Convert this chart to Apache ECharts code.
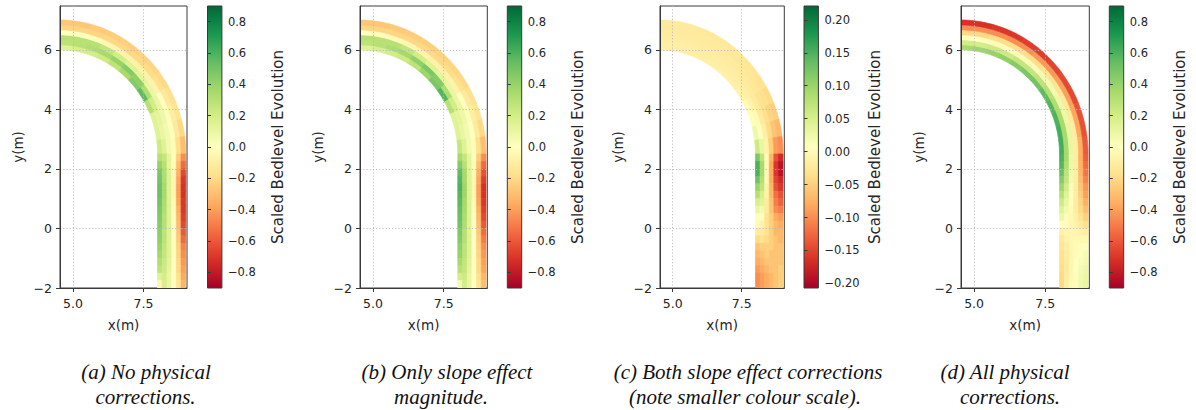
<!DOCTYPE html>
<html><head><meta charset="utf-8">
<script src="https://cdn.jsdelivr.net/npm/echarts@6/dist/echarts.min.js"></script>
<style>html,body{margin:0;padding:0;background:#fff}#c{width:1196px;height:410px}</style>
</head><body><div id="c"></div>
<script>
// ---- channel cell grid (station boundaries) ----
const bendAngles = [90, 82.5, 75, 67.5, 60, 52.5, 45, 37.5, 30, 22.5, 15, 7.5, 0]; // degrees
const straightY = [2.5, 2.25, 2, 1.75, 1.5, 1.25, 1, 0.75, 0.5, 0.25, 0, -0.25, -0.5, -0.75, -1, -1.25, -1.5, -1.75, -2]; // m
const nBins = 6; // transverse bins, inner bank -> outer bank

// ---- axis ticks ----
const xTicks = [5.0, 7.5];
const yTicks = [-2, 0, 2, 4, 6];
const cbTicksFull = [-0.8, -0.6, -0.4, -0.2, 0, 0.2, 0.4, 0.6, 0.8];
const cbTicksSmall = [-0.2, -0.15, -0.1, -0.05, 0, 0.05, 0.1, 0.15, 0.2];
const cbRangeFull = [-0.9, 0.9];
const cbRangeSmall = [-0.207, 0.221];

// ---- values: rows = stations along the flow, columns = inner -> outer ----
const aBend = [
 [0.15, 0.28, 0.30, 0.00, -0.22, -0.27],
 [0.18, 0.30, 0.30, 0.00, -0.22, -0.27],
 [0.20, 0.32, 0.30, -0.02, -0.22, -0.26],
 [0.22, 0.35, 0.26, -0.05, -0.21, -0.25],
 [0.28, 0.40, 0.20, -0.07, -0.21, -0.24],
 [0.35, 0.45, 0.15, -0.08, -0.20, -0.23],
 [0.45, 0.42, 0.12, -0.08, -0.19, -0.22],
 [0.55, 0.32, 0.10, -0.07, -0.17, -0.20],
 [0.30, 0.20, 0.10, 0.00, -0.12, -0.17],
 [0.15, 0.12, 0.08, 0.02, -0.10, -0.15],
 [0.15, 0.10, 0.06, 0.00, -0.12, -0.20],
 [0.22, 0.15, 0.06, -0.02, -0.18, -0.30]
];
const aStraight = [
 [0.30, 0.25, 0.12, 0.00, -0.25, -0.45],
 [0.40, 0.30, 0.12, -0.02, -0.30, -0.55],
 [0.48, 0.32, 0.15, -0.04, -0.35, -0.65],
 [0.50, 0.33, 0.15, -0.05, -0.38, -0.70],
 [0.52, 0.35, 0.15, -0.05, -0.40, -0.72],
 [0.52, 0.35, 0.15, -0.05, -0.40, -0.72],
 [0.50, 0.33, 0.15, -0.03, -0.38, -0.70],
 [0.48, 0.32, 0.15, -0.02, -0.35, -0.70],
 [0.46, 0.30, 0.15, 0.00, -0.32, -0.68],
 [0.45, 0.30, 0.15, 0.00, -0.30, -0.65],
 [0.43, 0.28, 0.15, 0.00, -0.27, -0.60],
 [0.42, 0.28, 0.15, 0.00, -0.25, -0.55],
 [0.40, 0.26, 0.15, 0.00, -0.23, -0.48],
 [0.36, 0.25, 0.15, 0.00, -0.22, -0.45],
 [0.32, 0.23, 0.13, 0.00, -0.20, -0.42],
 [0.28, 0.22, 0.12, 0.00, -0.20, -0.40],
 [0.15, 0.20, 0.10, 0.00, -0.17, -0.37],
 [-0.05, 0.18, 0.10, 0.00, -0.15, -0.33]
];
const bBend = [
 [0.15, 0.28, 0.30, 0.00, -0.22, -0.27],
 [0.18, 0.30, 0.30, -0.01, -0.22, -0.27],
 [0.20, 0.33, 0.30, -0.03, -0.22, -0.26],
 [0.22, 0.36, 0.26, -0.05, -0.21, -0.25],
 [0.28, 0.42, 0.20, -0.07, -0.21, -0.24],
 [0.38, 0.48, 0.15, -0.08, -0.20, -0.23],
 [0.48, 0.45, 0.12, -0.08, -0.19, -0.22],
 [0.58, 0.32, 0.10, -0.07, -0.17, -0.20],
 [0.30, 0.20, 0.10, 0.00, -0.12, -0.17],
 [0.15, 0.12, 0.08, 0.02, -0.10, -0.15],
 [0.15, 0.10, 0.06, 0.00, -0.12, -0.20],
 [0.25, 0.15, 0.06, -0.02, -0.18, -0.30]
];
const bStraight = [
 [0.35, 0.25, 0.12, 0.00, -0.25, -0.45],
 [0.45, 0.30, 0.12, -0.02, -0.30, -0.55],
 [0.55, 0.35, 0.15, -0.04, -0.35, -0.62],
 [0.58, 0.36, 0.15, -0.05, -0.38, -0.68],
 [0.60, 0.38, 0.15, -0.05, -0.40, -0.72],
 [0.58, 0.38, 0.15, -0.05, -0.40, -0.72],
 [0.56, 0.36, 0.15, -0.03, -0.38, -0.70],
 [0.54, 0.35, 0.15, -0.02, -0.35, -0.68],
 [0.52, 0.33, 0.15, 0.00, -0.32, -0.65],
 [0.50, 0.32, 0.15, 0.00, -0.30, -0.60],
 [0.47, 0.30, 0.15, 0.00, -0.27, -0.55],
 [0.45, 0.30, 0.15, 0.00, -0.25, -0.50],
 [0.42, 0.28, 0.15, 0.00, -0.23, -0.45],
 [0.40, 0.28, 0.15, 0.00, -0.22, -0.42],
 [0.35, 0.26, 0.13, 0.00, -0.20, -0.40],
 [0.30, 0.25, 0.12, 0.00, -0.20, -0.38],
 [0.20, 0.22, 0.10, 0.00, -0.17, -0.33],
 [0.05, 0.20, 0.10, 0.00, -0.15, -0.30]
];
const cBend = [
 [-0.015, -0.015, -0.018, -0.020, -0.022, -0.022],
 [-0.015, -0.015, -0.018, -0.020, -0.022, -0.022],
 [-0.015, -0.016, -0.018, -0.020, -0.022, -0.022],
 [-0.015, -0.016, -0.018, -0.020, -0.022, -0.023],
 [-0.014, -0.016, -0.018, -0.020, -0.022, -0.023],
 [-0.013, -0.015, -0.018, -0.021, -0.023, -0.024],
 [-0.012, -0.015, -0.019, -0.022, -0.025, -0.026],
 [-0.010, -0.015, -0.020, -0.025, -0.028, -0.030],
 [0.000, -0.010, -0.020, -0.030, -0.035, -0.040],
 [0.010, 0.000, -0.020, -0.035, -0.045, -0.050],
 [0.025, 0.010, -0.015, -0.040, -0.060, -0.070],
 [0.060, 0.030, -0.010, -0.050, -0.090, -0.100]
];
const cStraight = [
 [0.120, 0.070, 0.000, -0.070, -0.140, -0.170],
 [0.150, 0.090, 0.000, -0.080, -0.160, -0.190],
 [0.150, 0.090, 0.000, -0.080, -0.160, -0.190],
 [0.130, 0.080, 0.000, -0.080, -0.150, -0.170],
 [0.100, 0.070, -0.010, -0.070, -0.140, -0.160],
 [0.080, 0.050, -0.010, -0.070, -0.120, -0.140],
 [0.050, 0.040, -0.020, -0.060, -0.110, -0.130],
 [0.030, 0.020, -0.020, -0.060, -0.100, -0.110],
 [0.010, 0.010, -0.030, -0.050, -0.080, -0.090],
 [0.000, -0.010, -0.030, -0.050, -0.070, -0.080],
 [-0.020, -0.020, -0.030, -0.050, -0.070, -0.070],
 [-0.040, -0.030, -0.040, -0.050, -0.060, -0.070],
 [-0.060, -0.050, -0.050, -0.050, -0.060, -0.060],
 [-0.070, -0.060, -0.050, -0.060, -0.060, -0.060],
 [-0.080, -0.070, -0.060, -0.060, -0.060, -0.060],
 [-0.090, -0.080, -0.070, -0.060, -0.060, -0.050],
 [-0.100, -0.090, -0.080, -0.070, -0.060, -0.050],
 [-0.100, -0.090, -0.080, -0.070, -0.060, -0.050]
];
const dBend = [
 [0.35, 0.20, 0.00, -0.20, -0.45, -0.72],
 [0.38, 0.20, 0.00, -0.20, -0.45, -0.72],
 [0.40, 0.22, 0.02, -0.18, -0.45, -0.70],
 [0.42, 0.22, 0.02, -0.18, -0.45, -0.70],
 [0.45, 0.25, 0.03, -0.18, -0.45, -0.68],
 [0.48, 0.25, 0.03, -0.18, -0.42, -0.68],
 [0.50, 0.28, 0.05, -0.15, -0.42, -0.66],
 [0.55, 0.30, 0.05, -0.15, -0.40, -0.65],
 [0.58, 0.32, 0.08, -0.12, -0.40, -0.65],
 [0.60, 0.35, 0.08, -0.12, -0.38, -0.62],
 [0.62, 0.35, 0.10, -0.10, -0.38, -0.62],
 [0.62, 0.35, 0.10, -0.10, -0.35, -0.60]
];
const dStraight = [
 [0.60, 0.35, 0.08, -0.10, -0.35, -0.58],
 [0.58, 0.32, 0.08, -0.10, -0.33, -0.55],
 [0.52, 0.28, 0.06, -0.10, -0.32, -0.52],
 [0.45, 0.25, 0.05, -0.10, -0.30, -0.48],
 [0.38, 0.20, 0.02, -0.10, -0.27, -0.43],
 [0.30, 0.15, 0.00, -0.10, -0.25, -0.40],
 [0.22, 0.10, -0.02, -0.10, -0.22, -0.35],
 [0.15, 0.06, -0.03, -0.10, -0.20, -0.30],
 [0.08, 0.02, -0.04, -0.09, -0.16, -0.24],
 [0.00, -0.02, -0.05, -0.08, -0.12, -0.18],
 [-0.08, -0.06, -0.05, -0.06, -0.08, -0.10],
 [-0.12, -0.08, -0.05, -0.04, -0.04, -0.04],
 [-0.14, -0.10, -0.05, -0.03, -0.01, 0.01],
 [-0.16, -0.11, -0.05, -0.02, 0.01, 0.04],
 [-0.17, -0.12, -0.05, 0.00, 0.03, 0.06],
 [-0.18, -0.12, -0.05, 0.00, 0.05, 0.08],
 [-0.20, -0.11, -0.04, 0.01, 0.06, 0.09],
 [-0.20, -0.10, -0.03, 0.02, 0.07, 0.10]
];
const captions = [
 ['(a) No physical', 'corrections.'],
 ['(b) Only slope effect', 'magnitude.'],
 ['(c) Both slope effect corrections', '(note smaller colour scale).'],
 ['(d) All physical', 'corrections.']
];

// ---- geometry of the flume ----
const bendCenter = [4.5, 2.5], rInner = 3.5, chanWidth = 1, straightX0 = 8;
const xRange = [4.54, 9.045], yRange = [-2, 7.47];

// ---- colormap (RdYlGn) ----
const rdylgn = ['#a50026','#d73027','#f46d43','#fdae61','#fee08b','#ffffbf','#d9ef8b','#a6d96a','#66bd63','#1a9850','#006837'];

// ---- layout ----
const panels = [
 {bend: aBend, straight: aStraight, range: cbRangeFull, ticks: cbTicksFull, dec: 1, left: 60, width: 127, cbLeft: 207.5, cap: [146, 145.5]},
 {bend: bBend, straight: bStraight, range: cbRangeFull, ticks: cbTicksFull, dec: 1, left: 360, width: 127.3, cbLeft: 507.3, cap: [447, 441]},
 {bend: cBend, straight: cStraight, range: cbRangeSmall, ticks: cbTicksSmall, dec: 2, left: 660, width: 124.3, cbLeft: 804, cap: [748, 745]},
 {bend: dBend, straight: dStraight, range: cbRangeFull, ticks: cbTicksFull, dec: 1, left: 961, width: 128.3, cbLeft: 1109.3, cap: [1005, 1010]}
];
const TOP = 6, HEIGHT = 282, CBW = 14.4;
const FONT = 'DejaVu Sans';
const TXT = '#262626', SPINE = '#3a3a3a';
const fmt = (v, d) => { const s = Math.abs(v).toFixed(d); return v < -1e-9 ? '\u2212' + s : s; };

const nBend = bendAngles.length - 1;
function renderCell(params, api) {
  const st = api.value(0), b = api.value(1);
  const color = api.visual('color');
  let pts = [];
  if (st < nBend) {
    const a0 = bendAngles[st] * Math.PI / 180, a1 = bendAngles[st + 1] * Math.PI / 180;
    const r0 = rInner + chanWidth * b / nBins, r1 = rInner + chanWidth * (b + 1) / nBins;
    const N = 6;
    for (let k = 0; k <= N; k++) { const a = a0 + (a1 - a0) * k / N; pts.push(api.coord([bendCenter[0] + r1 * Math.cos(a), bendCenter[1] + r1 * Math.sin(a)])); }
    for (let k = N; k >= 0; k--) { const a = a0 + (a1 - a0) * k / N; pts.push(api.coord([bendCenter[0] + r0 * Math.cos(a), bendCenter[1] + r0 * Math.sin(a)])); }
  } else {
    const j = st - nBend;
    const y0 = straightY[j], y1 = straightY[j + 1];
    const x0 = straightX0 + chanWidth * b / nBins, x1 = straightX0 + chanWidth * (b + 1) / nBins;
    pts = [api.coord([x0, y0]), api.coord([x1, y0]), api.coord([x1, y1]), api.coord([x0, y1])];
  }
  return {type: 'polygon', shape: {points: pts}, style: {fill: color, stroke: color, lineWidth: 0.7}};
}

const grid = [], xAxis = [], yAxis = [], series = [], visualMap = [], graphic = [];
const stops = rdylgn.map((c, i) => ({offset: i / (rdylgn.length - 1), color: c}));

panels.forEach((p, i) => {
  // main plot
  grid.push({left: p.left, top: TOP, width: p.width, height: HEIGHT, show: true, borderColor: SPINE, borderWidth: 1, backgroundColor: '#fff'});
  xAxis.push({gridIndex: 2 * i, type: 'value', min: xRange[0], max: xRange[1], z: 5,
    axisLine: {show: true, onZero: false, lineStyle: {color: SPINE, width: 1}},
    axisTick: {show: true, inside: false, length: 4, customValues: xTicks, lineStyle: {color: SPINE}},
    axisLabel: {customValues: xTicks, formatter: v => v.toFixed(1), fontFamily: FONT, fontSize: 12.5, color: TXT, margin: 9},
    splitLine: {show: true, lineStyle: {color: '#b8b8b8', type: [1.2, 2], width: 0.9}},
    name: 'x(m)', nameLocation: 'middle', nameGap: 30, nameTextStyle: {fontFamily: FONT, fontSize: 13.5, color: TXT}});
  yAxis.push({gridIndex: 2 * i, type: 'value', min: yRange[0], max: yRange[1], z: 5,
    axisLine: {show: true, onZero: false, lineStyle: {color: SPINE, width: 1}},
    axisTick: {show: true, inside: false, length: 4, customValues: yTicks, lineStyle: {color: SPINE}},
    axisLabel: {customValues: yTicks, formatter: v => fmt(v, 0), fontFamily: FONT, fontSize: 12.5, color: TXT, margin: 8},
    splitLine: {show: true, lineStyle: {color: '#b8b8b8', type: [1.2, 2], width: 0.9}},
    name: 'y(m)', nameLocation: 'middle', nameGap: 35, nameRotate: 90, nameTextStyle: {fontFamily: FONT, fontSize: 13.5, color: TXT}});
  const data = [];
  p.bend.forEach((row, s) => row.forEach((v, b) => data.push([s, b, v])));
  p.straight.forEach((row, s) => row.forEach((v, b) => data.push([nBend + s, b, v])));
  series.push({type: 'custom', name: 'bed' + i, xAxisIndex: 2 * i, yAxisIndex: 2 * i, coordinateSystem: 'cartesian2d',
    clip: true, z: 2, renderItem: renderCell, data: data, encode: {x: -1, y: -1}, silent: true});
  visualMap.push({type: 'continuous', show: false, seriesIndex: series.length - 1, dimension: 2,
    min: p.range[0], max: p.range[1], inRange: {color: rdylgn}});

  // colorbar
  grid.push({left: p.cbLeft, top: TOP, width: CBW, height: HEIGHT});
  xAxis.push({gridIndex: 2 * i + 1, type: 'value', min: 0, max: 1, show: false});
  yAxis.push({gridIndex: 2 * i + 1, type: 'value', min: p.range[0], max: p.range[1], position: 'right', z: 5,
    axisLine: {show: false},
    axisTick: {show: true, inside: false, length: 3.5, customValues: p.ticks, lineStyle: {color: SPINE}},
    axisLabel: {customValues: p.ticks, formatter: v => fmt(v, p.dec), fontFamily: FONT, fontSize: 11.5, color: TXT, margin: 6},
    splitLine: {show: false},
    name: 'Scaled Bedlevel Evolution', nameLocation: 'middle', nameRotate: 90, nameGap: 49,
    nameTextStyle: {fontFamily: FONT, fontSize: 15, color: TXT}});
  series.push({type: 'custom', name: 'cb' + i, xAxisIndex: 2 * i + 1, yAxisIndex: 2 * i + 1, coordinateSystem: 'cartesian2d', silent: true,
    data: [[0, p.range[0], 1, p.range[1]]], encode: {x: -1, y: -1},
    renderItem: (params, api) => {
      const p0 = api.coord([api.value(0), api.value(3)]);
      const p1 = api.coord([api.value(2), api.value(1)]);
      return {type: 'rect', shape: {x: p0[0], y: p0[1], width: p1[0] - p0[0], height: p1[1] - p0[1]},
        style: {fill: new echarts.graphic.LinearGradient(0, 1, 0, 0, stops), stroke: SPINE, lineWidth: 1}};
    }});

  // captions
  captions[i].forEach((t, k) => graphic.push({type: 'text', x: p.cap[k], y: 372 + 25 * k,
    style: {text: t, fontFamily: 'Liberation Serif', fontStyle: 'italic', fontSize: 21, fill: '#111',
      align: 'center', verticalAlign: 'middle', textAlign: 'center', textVerticalAlign: 'middle'}}));
});

const chart = echarts.init(document.getElementById('c'), null, {renderer: 'svg', width: 1196, height: 410});
chart.setOption({animation: false, backgroundColor: '#fff', grid, xAxis, yAxis, series, visualMap, graphic});
</script></body></html>
